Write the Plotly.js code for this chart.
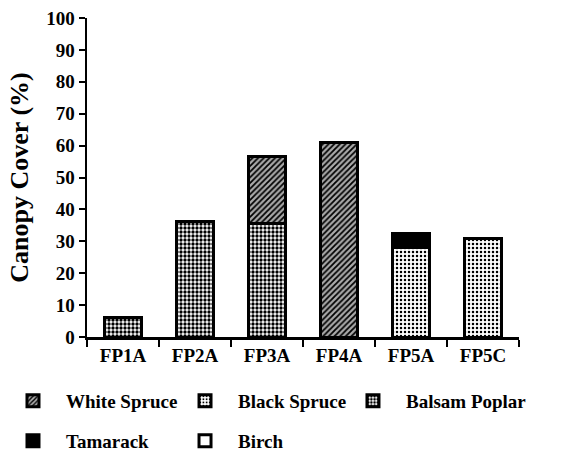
<!DOCTYPE html>
<html>
<head>
<meta charset="utf-8">
<script src="https://cdn.plot.ly/plotly-3.0.1.min.js"></script>
<style>html,body{margin:0;padding:0;background:#fff;}#chart{width:564px;height:459px;}</style>
</head>
<body>
<div id="chart"></div>
<script>
var sites = ["FP1A", "FP2A", "FP3A", "FP4A", "FP5A", "FP5C"];
var balsamPoplar = [6, 36.3, 35.7, null, null, null];
var blackSpruce = [null, null, null, null, 28, 31];
var whiteSpruce = [null, null, 21, 61, null, null];
var tamarack = [null, null, null, null, 4.3, null];
var birch = [null, null, null, null, null, null];
var yTicks = [0, 10, 20, 30, 40, 50, 60, 70, 80, 90, 100];

var FONT = "Liberation Serif, Times New Roman, serif";
var line = {color: "black", width: 3};

function bar(name, y, pattern, color, legend) {
  var t = {
    type: "bar", name: name, x: sites, y: y,
    marker: {color: color, line: line},
    legend: legend, hoverinfo: "skip"
  };
  if (pattern) t.marker.pattern = pattern;
  return t;
}

var traces = [
  bar("Balsam Poplar", balsamPoplar, {shape: ".", fgcolor: "black", bgcolor: "white", size: 4, solidity: 0.55}, "white", "legend3"),
  bar("Black Spruce", blackSpruce, {shape: ".", fgcolor: "black", bgcolor: "white", size: 4, solidity: 0.3}, "white", "legend2"),
  bar("White Spruce", whiteSpruce, {shape: "/", fgcolor: "black", bgcolor: "#aaaaaa", size: 4, solidity: 0.45}, "white", "legend"),
  bar("Tamarack", tamarack, null, "black", "legend4"),
  bar("Birch", birch, null, "white", "legend5")
];

var legendFont = {family: FONT, size: 19, color: "black", weight: "bold"};
function leg(x, y) {
  return {
    orientation: "h", x: x, xanchor: "left", y: y, yanchor: "middle",
    itemwidth: 56, font: legendFont, bgcolor: "rgba(0,0,0,0)"
  };
}
var row1 = -0.2006, row2 = -0.326;
var col1 = -0.2014, col2 = 0.1968, col3 = 0.5856;
var layout = {
  width: 564, height: 459,
  margin: {l: 87, r: 45, t: 18, b: 122, autoexpand: false},
  paper_bgcolor: "white", plot_bgcolor: "white",
  barmode: "stack", bargap: 0.49,
  font: {family: FONT, color: "black"},
  xaxis: {
    type: "category", range: [-0.5, 5.5], tickson: "boundaries",
    ticks: "outside", ticklen: 7, tickwidth: 2, tickcolor: "black",
    showline: true, linecolor: "black", linewidth: 2.5,
    showgrid: false, zeroline: false,
    tickfont: {family: FONT, size: 19, color: "black", weight: "bold"}
  },
  yaxis: {
    range: [0, 100], tickmode: "array", tickvals: yTicks,
    ticks: "outside", ticklen: 6, tickwidth: 2, tickcolor: "black",
    showline: true, linecolor: "black", linewidth: 2.5,
    showgrid: false, zeroline: false,
    tickfont: {family: FONT, size: 19, color: "black", weight: "bold"},
    title: {text: "Canopy Cover (%)", font: {family: FONT, size: 26, color: "black", weight: "bold"}, standoff: 10}
  },
  legend: leg(col1, row1),
  legend2: leg(col2, row1),
  legend3: leg(col3, row1),
  legend4: leg(col1, row2),
  legend5: leg(col2, row2),
  showlegend: true
};

Plotly.newPlot("chart", traces, layout, {displayModeBar: false, staticPlot: true});
</script>
</body>
</html>
